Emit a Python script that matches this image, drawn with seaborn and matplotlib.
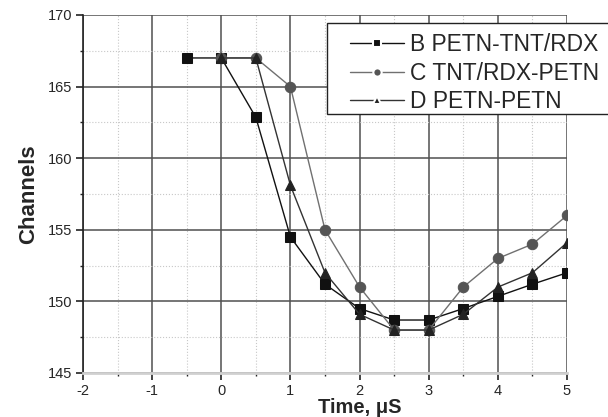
import numpy as np
import pandas as pd
import seaborn as sns
import matplotlib.pyplot as plt
from matplotlib.lines import Line2D
from matplotlib.patches import Rectangle
from matplotlib.ticker import MultipleLocator

# data
time_b = [-0.5, 0, 0.5, 1, 1.5, 2, 2.5, 3, 3.5, 4, 4.5, 5]
chan_b = [167, 167, 162.85, 154.5, 151.2, 149.5, 148.7, 148.7, 149.5, 150.35, 151.2, 152.0]

time_c = [0, 0.5, 1, 1.5, 2, 2.5, 3, 3.5, 4, 4.5, 5]
chan_c = [167, 167, 165, 155, 151, 148, 148, 151, 153, 154, 156]

time_d = [0, 0.5, 1, 1.5, 2, 2.5, 3, 3.5, 4, 4.5, 5]
chan_d = [167, 167, 158.1, 152, 149.1, 148, 148, 149.1, 151, 152, 154.1]

labels = ['B PETN-TNT/RDX', 'C TNT/RDX-PETN', 'D PETN-PETN']
markers = ['s', 'o', '^']
line_colors = ['#111111', '#707070', '#333333']
marker_colors = ['#111111', '#555555', '#222222']

df = pd.concat([
    pd.DataFrame({'time': time_b, 'channels': chan_b, 'sample': labels[0]}),
    pd.DataFrame({'time': time_c, 'channels': chan_c, 'sample': labels[1]}),
    pd.DataFrame({'time': time_d, 'channels': chan_d, 'sample': labels[2]}),
])

sns.set_style('white')
plt.rcParams['font.family'] = ['Liberation Sans', 'DejaVu Sans']
plt.rcParams['axes.unicode_minus'] = False

fig = plt.figure(figsize=(6.08, 4.17), dpi=100)
ax = fig.add_axes([83 / 608, 1 - 373 / 417, 484 / 608, 358 / 417])

for lab, mk, lc, mc in zip(labels, markers, line_colors, marker_colors):
    sub = df[df['sample'] == lab]
    sns.lineplot(data=sub, x='time', y='channels', ax=ax, color=lc, lw=1.0,
                 marker=mk, markersize=7.5 if mk == 'o' else 7,
                 markerfacecolor=mc, markeredgecolor=mc, sort=False,
                 legend=False, zorder=3)

ax.set_xlim(-2, 5)
ax.set_ylim(145, 170)
ax.xaxis.set_major_locator(MultipleLocator(1))
ax.xaxis.set_minor_locator(MultipleLocator(0.5))
ax.yaxis.set_major_locator(MultipleLocator(5))
ax.yaxis.set_minor_locator(MultipleLocator(2.5))

ax.grid(which='major', color='#505050', lw=1.1, ls='-', zorder=0)
ax.grid(which='minor', color='#c8c8c8', lw=0.8, ls=':', zorder=0)
ax.set_axisbelow(True)

for s in ['top', 'right']:
    ax.spines[s].set_visible(False)
ax.spines['left'].set_color('#222222')
ax.spines['left'].set_linewidth(1.2)
ax.spines['bottom'].set_color('#d0d0d0')
ax.spines['bottom'].set_linewidth(2)

ax.tick_params(which='major', direction='out', length=5, width=1.2, color='#222222',
               labelsize=10.5, pad=3, bottom=True, left=True)
ax.tick_params(which='minor', direction='out', length=2.5, width=1.0, color='#222222',
               bottom=True, left=True)

ax.set_xlabel('Time, μS', fontsize=14.5, fontweight='bold', labelpad=0, va='baseline')
ax.xaxis.set_label_coords(0.572, -0.111)
ax.set_ylabel('Channels', fontsize=16, fontweight='bold', labelpad=6)

# legend box drawn by hand so it can run off the right edge like the original
fig.patches.append(Rectangle((327 / 608, 1 - 114 / 417), 300 / 608, 91 / 417,
                             transform=fig.transFigure, facecolor='white',
                             edgecolor='#222222', lw=1.0, zorder=5))

handles = [Line2D([0], [0], color=lc, lw=1.0, marker=mk, markersize=6,
                  markerfacecolor=mc, markeredgecolor='white', markeredgewidth=1.5)
           for mk, lc, mc in zip(markers, line_colors, marker_colors)]
leg = fig.legend(handles, labels, loc='upper left', bbox_to_anchor=(350 / 608, 1 - 33 / 417),
                 fontsize=16.4, frameon=False, handlelength=2.35,
                 handletextpad=0.3, labelspacing=0.25, borderpad=0, borderaxespad=0)
leg.set_zorder(6)

fig.savefig('out.png', dpi=100)
